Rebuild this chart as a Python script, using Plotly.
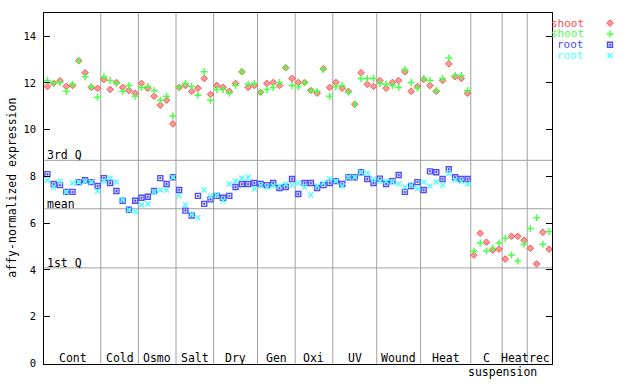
import plotly.graph_objects as go

# ---------------- data ----------------
groups = ["Cont", "Cold", "Osmo", "Salt", "Dry", "Gen", "Oxi", "UV", "Wound", "Heat",
          "C", "Heat", "rec"]
group_sizes = [9, 6, 6, 6, 7, 6, 6, 7, 7, 8, 5, 4, 4]
section_label = "suspension"

series_names = ["shoot", "shoot", "root", "root"]

shoot_1 = [11.85, 11.99, 12.09, 11.85, 11.89, 12.95, 12.44, 11.81, 11.77,
           12.15, 11.72, 12.02, 11.81, 11.68, 11.56,
           11.98, 11.77, 11.43, 11.05, 11.26, 10.25,
           11.81, 11.89, 11.64, 11.77, 12.19, 11.51,
           11.89, 11.81, 11.64, 11.98, 12.48, 11.81, 11.89,
           11.60, 11.98, 12.02, 11.89, 12.65, 12.19,
           12.02, 12.02, 11.68, 11.56, 12.61, 11.81,
           12.02, 11.77, 11.64, 11.09, 12.44, 11.94, 11.85,
           12.10, 11.77, 12.02, 12.10, 12.48, 11.64, 11.85,
           12.15, 11.89, 11.64, 12.10, 12.82, 12.27, 12.19, 11.56,
           4.64, 5.57, 5.19, 4.85, 4.89,
           4.47, 5.44, 5.44, 5.27,
           4.93, 4.26, 5.61, 4.89]

shoot_2 = [12.10, 11.99, 12.02, 11.64, 11.94, 12.95, 12.27, 11.85, 11.39,
           12.27, 12.10, 11.98, 11.64, 11.89, 11.43,
           11.81, 11.85, 11.68, 11.26, 11.43, 10.59,
           11.81, 11.98, 11.85, 11.47, 12.48, 11.26,
           11.72, 11.72, 11.56, 11.89, 12.48, 11.94, 11.98,
           11.60, 11.72, 11.81, 12.02, 12.65, 11.89,
           11.85, 12.02, 11.68, 11.64, 12.57, 11.43,
           11.85, 11.89, 11.60, 11.09, 12.19, 12.19, 12.19,
           11.98, 11.94, 11.89, 11.81, 12.57, 12.02, 11.77,
           12.19, 12.10, 11.68, 12.19, 13.07, 12.32, 12.32, 11.68,
           4.81, 5.15, 4.81, 4.93, 5.15,
           5.36, 4.64, 4.39, 5.10,
           5.78, 6.24, 5.10, 5.65]

root_1 = [8.10, 7.68, 7.63, 7.34, 7.34, 7.76, 7.84, 7.76, 7.59,
          7.93, 7.72, 7.38, 6.96, 6.58, 6.96,
          7.09, 7.13, 7.38, 7.93, 7.68, 7.97,
          7.42, 6.54, 6.33, 7.17, 6.83, 7.02,
          7.17, 7.09, 7.17, 7.55, 7.68, 7.68, 7.72,
          7.68, 7.63, 7.72, 7.51, 7.55, 7.89,
          7.25, 7.72, 7.72, 7.51, 7.63, 7.72,
          7.80, 7.68, 7.97, 7.97, 8.18, 7.89, 7.72,
          7.91, 7.68, 7.80, 8.06, 7.34, 7.59, 7.76,
          7.42, 8.22, 8.18, 7.89, 8.31, 7.97, 7.89, 7.89,
          None, None, None, None, None,
          None, None, None, None,
          None, None, None, None]

root_2 = [7.84, 7.55, 7.80, 7.34, 7.72, 7.76, 7.80, 7.76, 7.38,
          7.80, 7.93, 7.76, 7.00, 6.57, 6.50,
          6.79, 6.83, 7.34, 7.42, 7.42, 7.97,
          7.17, 6.79, 6.37, 6.24, 7.42, 7.17,
          7.21, 6.96, 7.68, 7.80, 7.93, 7.97, 7.47,
          7.63, 7.55, 7.59, 7.59, 7.68, 7.63,
          7.72, 7.55, 7.21, 7.59, 7.72, 7.89,
          7.80, 7.59, 7.97, 7.97, 8.18, 8.14, 7.89,
          7.80, 7.80, 7.76, 7.68, 7.55, 7.63, 7.47,
          7.76, 7.59, 7.76, 7.63, 8.14, 7.84, 7.80, 7.68,
          None, None, None, None, None,
          None, None, None, None,
          None, None, None, None]

quartile_labels = ["3rd Q", "mean", "1st Q"]
quartile_values = [8.69, 6.62, 4.09]

y_ticks = [0, 2, 4, 6, 8, 10, 12, 14]
y_title = "affy-normalized expression"

# ---------------- styling ----------------
# positions are given in reference pixels and converted to paper fractions,
# so the figure can be sized to the actual browser viewport.
W, H = 640, 384
L, R, T, B = 44.3, 552.3, 13.0, 369.3
FONT = "DejaVu Sans Mono"
FS = 11.5
GRID = "#a0a0a0"

colors = ["#ff4c4c", "#4cff4c", "#4c4cff", "#4cffff"]
symbols = ["diamond", "cross-thin-open", "square-open-dot", "x-thin-open"]
sizes = [5, 5, 5, 5]
fills = ["#ff9a9a", "#4cff4c", "#4c4cff", "#4cffff"]
lw = [1, 1.5, 1.4, 1.4]

n = sum(group_sizes)
xs = list(range(n))

fig = go.Figure()
for vals, c, s, sz, f, w in zip([shoot_1, shoot_2, root_1, root_2], colors, symbols, sizes, fills, lw):
    fig.add_trace(go.Scatter(
        x=xs, y=vals, mode="markers", showlegend=False, cliponaxis=False,
        marker=dict(symbol=s, size=sz, color=f, line=dict(color=c, width=w)),
        xaxis="x", yaxis="y"))

# legend drawn manually (text then symbol)
for k, (name, c, s, sz, f, w) in enumerate(zip(series_names, colors, symbols, sizes, fills, lw)):
    fig.add_trace(go.Scatter(
        x=[0.5], y=[3 - k], mode="markers", showlegend=False, cliponaxis=False,
        marker=dict(symbol=s, size=sz, color=f, line=dict(color=c, width=w)),
        xaxis="x2", yaxis="y2", hoverinfo="skip"))

shapes = []
annotations = []

# group separators + labels
start = 0
for gi, (g, sz) in enumerate(zip(groups, group_sizes)):
    center = start + (sz - 1) / 2
    annotations.append(dict(x=center, y=0, xref="x", yref="y", text=g, showarrow=False,
                            xanchor="center", yanchor="bottom", yshift=-3.5,
                            font=dict(family=FONT, size=FS, color="black")))
    start += sz
    if gi < len(groups) - 1:
        shapes.append(dict(type="line", xref="x", yref="y domain", x0=start - 0.5, x1=start - 0.5,
                           y0=0, y1=1, line=dict(color=GRID, width=1), layer="below"))

# suspension section label below axis
susp_x = sum(group_sizes[:10]) + group_sizes[10] - 0.5
annotations.append(dict(x=susp_x, y=0, xref="x", yref="y", text=section_label, showarrow=False,
                        xanchor="center", yanchor="top", yshift=1,
                        font=dict(family=FONT, size=FS, color="black")))

# quartile lines
for lab, v in zip(quartile_labels, quartile_values):
    shapes.append(dict(type="line", xref="x domain", yref="y", x0=0, x1=1, y0=v, y1=v,
                       line=dict(color=GRID, width=1), layer="below"))
    annotations.append(dict(x=(L + 0.3) / W, y=v, xref="paper", yref="y", text=lab, showarrow=False,
                            xanchor="left", yanchor="bottom", yshift=-4,
                            font=dict(family=FONT, size=FS, color="black")))

# y title
annotations.append(dict(x=12.5 / W, y=1 - ((T + B) / 2) / H, xref="paper", yref="paper",
                        text=y_title, textangle=-90, showarrow=False,
                        xanchor="center", yanchor="middle",
                        font=dict(family=FONT, size=FS, color="black")))

# legend text
for k, (name, c) in enumerate(zip(series_names, colors)):
    annotations.append(dict(x=586 / W, y=3 - k, xref="paper", yref="y2", text=name,
                            showarrow=False, xanchor="right", yanchor="middle",
                            font=dict(family=FONT, size=11, color=c)))

fig.update_layout(
    width=W, height=H,
    margin=dict(l=0, r=0, t=0, b=0),
    paper_bgcolor="white", plot_bgcolor="white",
    shapes=shapes, annotations=annotations,
    xaxis=dict(domain=[L / W, R / W], range=[-0.5, n - 0.5], showgrid=False, zeroline=False,
               showticklabels=False, ticks="", showline=True, linecolor="black", linewidth=1,
               mirror=True, anchor="y"),
    yaxis=dict(domain=[1 - B / H, 1 - T / H], range=[0, 15], tickvals=y_ticks,
               showgrid=False, zeroline=False, ticks="inside", ticklen=6, tickcolor="black",
               showline=True, linecolor="black", linewidth=1, mirror="ticks",
               tickfont=dict(family=FONT, size=10.5, color="black"), ticklabelstandoff=5,
               anchor="x"),
    xaxis2=dict(domain=[590 / W, 630 / W], range=[0, 1], visible=False, anchor="y2"),
    yaxis2=dict(domain=[1 - 62 / H, 1 - 18 / H], range=[-0.5, 3.5], visible=False, anchor="x2"),
    showlegend=False,
)

# remove the default page margin and fit the figure to the actual viewport
page_fix = (
    "var h=document.documentElement.style;h.margin='0';h.padding='0';h.overflow='hidden';"
    "var b=document.body.style;b.margin='0';b.padding='0';b.overflow='hidden';"
    "var gd=document.getElementById('{plot_id}');"
    "return Plotly.relayout(gd, {width: window.innerWidth, height: window.innerHeight});"
)
fig.write_html("out.html", config={"displayModeBar": False, "staticPlot": True},
               post_script=page_fix)
